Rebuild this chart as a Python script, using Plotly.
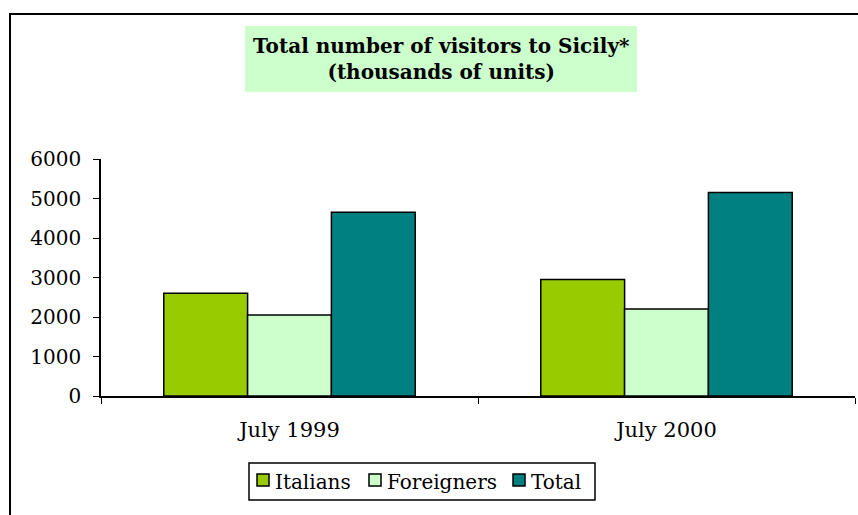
import plotly.graph_objects as go

# Visitors to Sicily, thousands of units
periods = ["July 1999", "July 2000"]
italians = [2600, 2950]
foreigners = [2050, 2200]
total = [4650, 5150]

series_names = ["Italians", "Foreigners", "Total"]
series_colors = ["#99CC00", "#CCFFCC", "#008080"]
y_ticks = [0, 1000, 2000, 3000, 4000, 5000, 6000]

FONT = "DejaVu Serif"

# plot area in pixels: x 101..855, y 159..396
L, R, T, B = 101, 855, 159, 396


def px(x):
    return (x - L) / (R - L)


def py(y):
    return (B - y) / (B - T)


fig = go.Figure()
for name, vals, col in zip(series_names, [italians, foreigners, total], series_colors):
    fig.add_trace(go.Bar(
        x=periods, y=vals, name=name, showlegend=False,
        marker=dict(color=col, line=dict(color="black", width=1.5)),
    ))

fig.update_layout(
    width=858, height=515,
    margin=dict(l=L, r=858 - R, t=T, b=515 - B),
    paper_bgcolor="white", plot_bgcolor="white",
    barmode="group", bargap=0.333, bargroupgap=0,
    font=dict(family=FONT, size=20, color="black"),
    showlegend=False,
)

fig.update_xaxes(
    showline=True, linecolor="black", linewidth=1.5,
    ticks="outside", tickson="boundaries", ticklen=6, tickcolor="black",
    ticklabelstandoff=14, showgrid=False,
    tickfont=dict(family=FONT, size=21),
)
fig.update_yaxes(
    range=[0, 6000], tickvals=y_ticks, ticktext=[str(v) for v in y_ticks],
    showline=True, linecolor="black", linewidth=1.5,
    ticks="outside", ticklen=6, tickcolor="black", ticklabelstandoff=8,
    showgrid=False, zeroline=False,
    tickfont=dict(family=FONT, size=20),
)

# outer chart frame (left and top edges visible)
fig.add_shape(type="rect", xref="paper", yref="paper",
              x0=px(10), x1=px(900), y0=py(560), y1=py(14),
              line=dict(color="black", width=2), fillcolor="rgba(0,0,0,0)",
              layer="below")

# title background panel
fig.add_shape(type="rect", xref="paper", yref="paper",
              x0=px(245), x1=px(637), y0=py(92), y1=py(26),
              line=dict(width=0), fillcolor="#CCFFCC", layer="below")

fig.add_annotation(
    xref="paper", yref="paper", x=px(441), y=py(59),
    xanchor="center", yanchor="middle", showarrow=False,
    text="<b>Total number of visitors to Sicily*</b><br><b>(thousands of units)</b>",
    font=dict(family=FONT, size=20, color="black"),
)

# legend box with swatch + label for each series
fig.add_shape(type="rect", xref="paper", yref="paper",
              x0=px(249), x1=px(595), y0=py(500), y1=py(463),
              line=dict(color="black", width=1.5), fillcolor="white")
swatch_left = [257, 369, 513]
for name, col, sx in zip(series_names, series_colors, swatch_left):
    fig.add_shape(type="rect", xref="paper", yref="paper",
                  x0=px(sx), x1=px(sx + 12), y0=py(486), y1=py(474),
                  line=dict(color="black", width=1.5), fillcolor=col)
    fig.add_annotation(
        xref="paper", yref="paper", x=px(sx + 16), y=py(482),
        xanchor="left", yanchor="middle", showarrow=False,
        text=name, font=dict(family=FONT, size=20, color="black"),
    )

fig.write_html("out.html")
